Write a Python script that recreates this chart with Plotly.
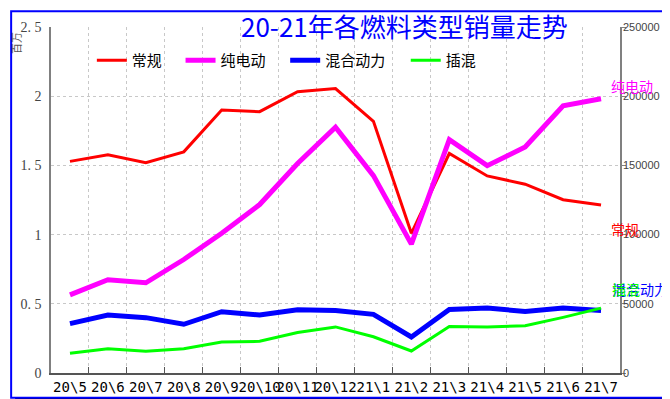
import plotly.graph_objects as go

categories = ["20\\5", "20\\6", "20\\7", "20\\8", "20\\9", "20\\10", "20\\11", "20\\12",
              "21\\1", "21\\2", "21\\3", "21\\4", "21\\5", "21\\6", "21\\7"]
changgui = [1.529, 1.576, 1.519, 1.598, 1.90, 1.888, 2.033, 2.055, 1.819, 1.009, 1.586, 1.424, 1.364, 1.252, 1.214]
chundiandong = [0.564, 0.674, 0.652, 0.82, 1.01, 1.217, 1.514, 1.776, 1.426, 0.931, 1.686, 1.498, 1.633, 1.931, 1.981]
hunhe = [0.357, 0.419, 0.40, 0.352, 0.443, 0.419, 0.457, 0.452, 0.424, 0.26, 0.459, 0.469, 0.445, 0.469, 0.452]
chahun = [0.143, 0.176, 0.157, 0.176, 0.224, 0.229, 0.293, 0.333, 0.262, 0.159, 0.336, 0.333, 0.341, 0.402, 0.469]

left_ticks = [0, 0.5, 1, 1.5, 2, 2.5]
left_ticktext = ["0", "0. 5", "1", "1. 5", "2", "2. 5"]
right_ticks = [0, 50000, 100000, 150000, 200000, 250000]

series = [
    ("常规", changgui, "#ff0000", 3, "legend"),
    ("纯电动", chundiandong, "#ff00ff", 5, "legend2"),
    ("混合动力", hunhe, "#0000ff", 5, "legend3"),
    ("插混", chahun, "#00ff00", 3, "legend4"),
]

# plot-area geometry in pixels
W, H = 670, 399
L, R, T, B = 41, 612, 17, 367
pw, ph = R - L, B - T


def px(x):
    return (x - L) / pw


def py(y):
    return (B - y) / ph


fig = go.Figure()
for name, vals, color, w, lg in series:
    fig.add_trace(go.Scatter(x=categories, y=vals, name=name, mode="lines",
                             line=dict(color=color, width=w), legend=lg))

# invisible trace to activate right axis
fig.add_trace(go.Scatter(x=categories, y=[v * 100000 for v in changgui], yaxis="y2",
                         mode="lines", line=dict(width=0), opacity=0,
                         showlegend=False, hoverinfo="skip"))

legend_font = dict(family="Noto Sans CJK SC", size=15, color="#000000")
legend_x = [98, 187, 292, 413]
legend_common = dict(orientation="h", yanchor="middle", xanchor="left",
                     bgcolor="rgba(0,0,0,0)", borderwidth=0, font=legend_font)

layout_legends = {}
for i, key in enumerate(["legend", "legend2", "legend3", "legend4"]):
    layout_legends[key] = dict(legend_common, x=px(legend_x[i] - 16), y=py(51))

shapes = [
    dict(type="rect", xref="paper", yref="paper", x0=px(5), x1=px(667), y0=py(397), y1=py(5),
         fillcolor="#000000", line=dict(width=0), layer="below"),
    dict(type="rect", xref="paper", yref="paper", x0=px(1), x1=px(662), y0=py(392), y1=py(1),
         fillcolor="#ffffff", line=dict(color="#0000ff", width=2), layer="below"),
]

annotations = [
    dict(text="20-21年各燃料类型销量走势", xref="paper", yref="paper", x=px(396), y=py(15),
         xanchor="center", yanchor="middle", showarrow=False,
         font=dict(family="Noto Sans CJK SC", size=26, color="#0000ff")),
    dict(text="百万", xref="paper", yref="paper", x=px(6), y=py(33), textangle=-90,
         xanchor="center", yanchor="middle", showarrow=False,
         font=dict(family="Noto Sans CJK SC", size=11, color="#555555")),
    dict(text="纯电动", xref="paper", yref="paper", x=px(601), y=py(77),
         xanchor="left", yanchor="middle", showarrow=False,
         font=dict(family="Noto Sans CJK SC", size=14, color="#ff00ff")),
    dict(text="常规", xref="paper", yref="paper", x=px(601), y=py(221),
         xanchor="left", yanchor="middle", showarrow=False,
         font=dict(family="Noto Sans CJK SC", size=14, color="#ff0000")),
    dict(text="混合动力", xref="paper", yref="paper", x=px(602), y=py(282),
         xanchor="left", yanchor="middle", showarrow=False,
         font=dict(family="Noto Sans CJK SC", size=14, color="#0000ff")),
    dict(text="插混", xref="paper", yref="paper", x=px(602), y=py(282),
         xanchor="left", yanchor="middle", showarrow=False,
         font=dict(family="Noto Sans CJK SC", size=14, color="#00ff00")),
]

fig.update_layout(
    width=W, height=H,
    margin=dict(l=L, r=W - R, t=T, b=H - B),
    paper_bgcolor="#ffffff",
    plot_bgcolor="rgba(0,0,0,0)",
    showlegend=True,
    shapes=shapes,
    annotations=annotations,
    xaxis=dict(
        type="category", tickson="boundaries", ticks="inside", ticklen=6,
        tickcolor="#555555", tickangle=0,
        showgrid=True, gridcolor="#c8c8c8", griddash="dot", gridwidth=1,
        showline=True, linecolor="#555555", linewidth=1.5,
        tickfont=dict(family="DejaVu Sans Mono", size=14, color="#000000"),
        range=[-0.5, len(categories) - 0.5],
    ),
    yaxis=dict(
        range=[0, 2.5], tickvals=left_ticks, ticktext=left_ticktext,
        showgrid=True, gridcolor="#c8c8c8", griddash="dot", gridwidth=1,
        showline=True, linecolor="#808080", linewidth=1.5, zeroline=False,
        ticks="", ticklabelstandoff=5,
        tickfont=dict(family="Liberation Serif", size=14, color="#444444"),
    ),
    yaxis2=dict(
        range=[0, 250000], tickvals=right_ticks, tickformat="d", overlaying="y", side="right",
        showgrid=False, showline=True, linecolor="#808080", linewidth=1.5,
        zeroline=False, ticks="outside", ticklen=4, tickcolor="#808080",
        ticklabelstandoff=-5,
        tickfont=dict(family="Liberation Sans", size=11, color="#444444"),
    ),
    **layout_legends,
)

fig.write_html("out.html")
